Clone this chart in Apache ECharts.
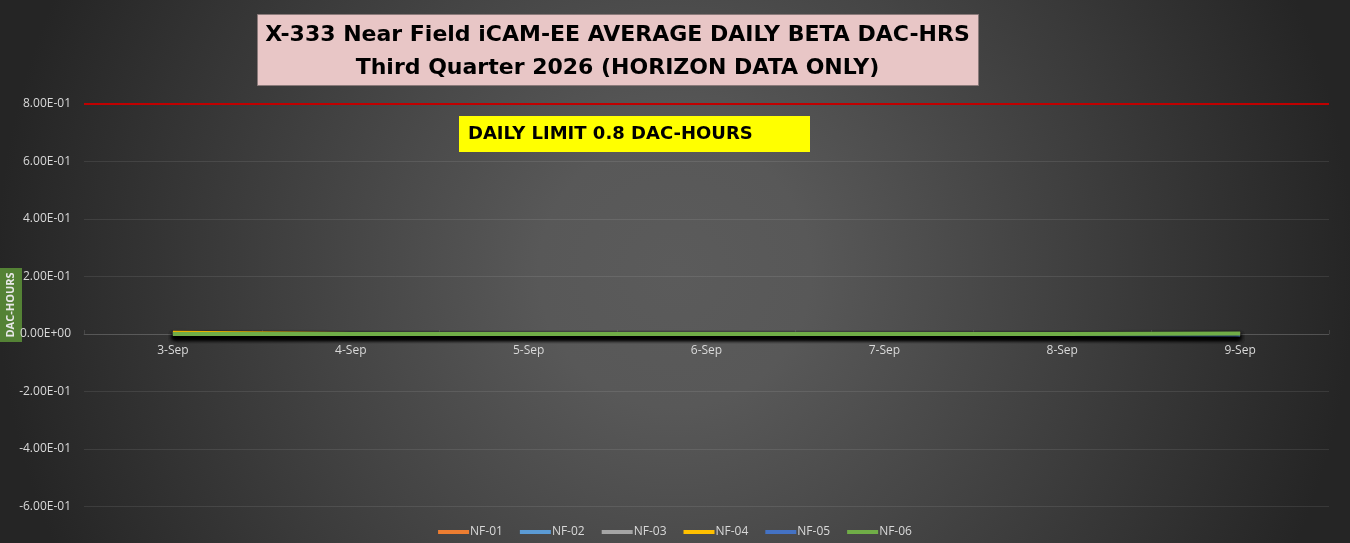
<!DOCTYPE html>
<html style="height: 100%">
<head>
    <meta charset="utf-8">
    <style>
        html, body { margin: 0; padding: 0; height: 100%; background: #333; }
        #container { width: 1350px; height: 543px; }
    </style>
</head>
<body>
<div id="container"></div>
<script src="https://cdn.jsdelivr.net/npm/echarts@6/dist/echarts.min.js"></script>
<script type="text/javascript">
    // 日期
    var days = ['3-Sep', '4-Sep', '5-Sep', '6-Sep', '7-Sep', '8-Sep', '9-Sep'];
    // 各测点平均 DAC-HRS
    var nf01 = [0, 0, 0, 0, 0, 0, 0];
    var nf02 = [0, 0, 0, 0, 0, 0, 0];
    var nf03 = [0, 0, 0, 0, 0, 0, 0];
    var nf04 = [0.004, 0, 0, 0, 0, 0, 0];
    var nf05 = [0, 0, 0, 0, 0, 0, -0.003];
    var nf06 = [0, 0, 0, 0, 0, 0, 0.002];
    var dailyLimit = 0.8;
    var seriesNames = ['NF-01', 'NF-02', 'NF-03', 'NF-04', 'NF-05', 'NF-06'];
    var seriesColors = ['#ed7d31', '#5b9bd5', '#a5a5a5', '#ffc000', '#4472c4', '#70ad47'];

    var myChart = echarts.init(document.getElementById('container'));

    function makeLine(i, data) {
        return {
            name: seriesNames[i],
            type: 'line',
            symbol: 'none',
            data: data,
            z: 3 + i,
            lineStyle: {
                width: 4,
                color: seriesColors[i],
                shadowColor: 'rgba(0,0,0,0.8)',
                shadowBlur: 4,
                shadowOffsetY: 3
            },
            itemStyle: { color: seriesColors[i] }
        };
    }

    var series = [
        makeLine(0, nf01),
        makeLine(1, nf02),
        makeLine(2, nf03),
        makeLine(3, nf04),
        makeLine(4, nf05),
        makeLine(5, nf06)
    ];
    // 限值线
    series[0].markLine = {
        silent: true,
        symbol: 'none',
        label: { show: false },
        lineStyle: { color: '#c00000', width: 2, type: 'solid' },
        data: [{ yAxis: dailyLimit }]
    };

    var option = {
        backgroundColor: new echarts.graphic.RadialGradient(0.5, 0.5, 1.25, [
            { offset: 0, color: '#5b5b5b' },
            { offset: 0.2, color: '#585858' },
            { offset: 1, color: '#252525' }
        ]),
        textStyle: { fontFamily: '"Open Sans", sans-serif' },
        animation: false,
        grid: {
            left: 84,
            right: 21,
            top: 104,
            height: 460,
            outerBoundsMode: 'none',
            containLabel: false
        },
        legend: {
            bottom: 0,
            left: 'center',
            itemWidth: 31,
            itemHeight: 4,
            itemGap: 17,
            icon: 'rect',
            textStyle: { color: '#d9d9d9', fontSize: 12, padding: [0, 0, 0, -4] },
            data: seriesNames
        },
        xAxis: {
            type: 'category',
            boundaryGap: true,
            data: days,
            position: 'bottom',
            offset: -230,
            axisLine: { onZero: false, lineStyle: { color: 'rgba(255,255,255,0.12)', width: 1 } },
            axisTick: { show: true, alignWithLabel: false, length: 4, inside: true, lineStyle: { color: 'rgba(255,255,255,0.12)' } },
            axisLabel: { color: '#d9d9d9', fontSize: 12, margin: 11 }
        },
        yAxis: {
            type: 'value',
            min: -0.8,
            max: 0.8,
            interval: 0.2,
            axisLine: { show: false },
            axisTick: { show: false },
            splitLine: { lineStyle: { color: 'rgba(255,255,255,0.09)', width: 1 } },
            axisLabel: {
                color: '#d9d9d9',
                fontSize: 12,
                margin: 13,
                formatter: function (v) {
                    if (Math.abs(v) < 1e-9) return '0.00E+00';
                    var e = Math.floor(Math.log10(Math.abs(v)));
                    var m = v / Math.pow(10, e);
                    var es = (e < 0 ? '-' : '+') + (Math.abs(e) < 10 ? '0' : '') + Math.abs(e);
                    return m.toFixed(2) + 'E' + es;
                }
            }
        },
        graphic: [
            {
                type: 'group',
                left: 257,
                top: 14,
                children: [
                    {
                        type: 'rect',
                        shape: { x: 0, y: 0, width: 721, height: 71 },
                        style: { fill: '#e8c6c6', stroke: '#8a7a7a', lineWidth: 1 }
                    },
                    {
                        type: 'text',
                        style: {
                            x: 360, y: 21,
                            text: 'X-333 Near Field iCAM-EE AVERAGE DAILY BETA DAC-HRS',
                            fill: '#000',
                            font: 'bold 22px "DejaVu Sans", sans-serif',
                            align: 'center',
                            verticalAlign: 'middle'
                        }
                    },
                    {
                        type: 'text',
                        style: {
                            x: 360, y: 54,
                            text: 'Third Quarter 2026 (HORIZON DATA ONLY)',
                            fill: '#000',
                            font: 'bold 22px "DejaVu Sans", sans-serif',
                            align: 'center',
                            verticalAlign: 'middle'
                        }
                    }
                ]
            },
            {
                type: 'group',
                left: 459,
                top: 116,
                children: [
                    {
                        type: 'rect',
                        shape: { x: 0, y: 0, width: 351, height: 36 },
                        style: { fill: '#ffff00' }
                    },
                    {
                        type: 'text',
                        style: {
                            x: 9, y: 18,
                            text: 'DAILY LIMIT 0.8 DAC-HOURS',
                            fill: '#000',
                            font: 'bold 18px "DejaVu Sans", sans-serif',
                            verticalAlign: 'middle'
                        }
                    }
                ]
            },
            {
                type: 'group',
                left: 0,
                top: 268,
                children: [
                    {
                        type: 'rect',
                        shape: { x: 0, y: 0, width: 22, height: 74 },
                        style: { fill: '#548235' }
                    },
                    {
                        type: 'text',
                        x: 11,
                        y: 37,
                        rotation: Math.PI / 2,
                        style: {
                            x: 0, y: 0,
                            text: 'DAC-HOURS',
                            fill: '#e8e8e8',
                            font: 'bold 11px "Open Sans", sans-serif',
                            align: 'center',
                            verticalAlign: 'middle'
                        }
                    }
                ]
            }
        ],
        series: series
    };
    myChart.setOption(option, true);
</script>
</body>
</html>
